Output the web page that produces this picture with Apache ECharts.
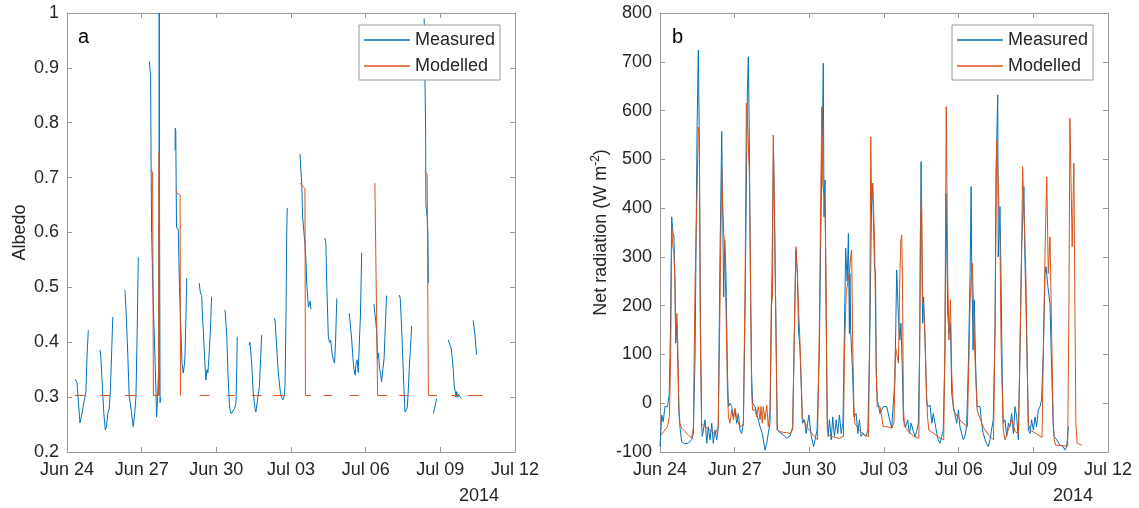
<!DOCTYPE html>
<html>
<head>
<meta charset="utf-8">
<title>Albedo and net radiation, Jun–Jul 2014</title>
<script src="https://cdn.jsdelivr.net/npm/echarts@6/dist/echarts.min.js"></script>
<style>
  html, body { margin: 0; padding: 0; background: #fff; }
  #chart { width: 1139px; height: 508px; }
</style>
</head>
<body>
<div id="chart"></div>
<script>
// Time is given in days since Jun 24 2014 00:00.
const dateTicks = ['Jun 24', 'Jun 27', 'Jun 30', 'Jul 03', 'Jul 06', 'Jul 09', 'Jul 12'];
const yearLabel = '2014';
const seriesNames = ['Measured', 'Modelled'];

// Panel a: albedo, one daylight segment per list entry
const albedoMeasured = [
  [[0.32,0.333],[0.40,0.327],[0.46,0.29],[0.52,0.253],[0.58,0.265],[0.64,0.28],[0.70,0.295],[0.76,0.31],[0.80,0.37],[0.856,0.422]],
  [[1.33,0.386],[1.36,0.372],[1.42,0.32],[1.48,0.27],[1.54,0.24],[1.58,0.245],[1.64,0.27],[1.70,0.28],[1.74,0.31],[1.80,0.39],[1.84,0.446]],
  [[2.33,0.495],[2.38,0.45],[2.44,0.38],[2.50,0.30],[2.54,0.29],[2.58,0.275],[2.66,0.246],[2.72,0.27],[2.77,0.30],[2.82,0.42],[2.865,0.555]],
  [[3.31,0.912],[3.36,0.884],[3.38,0.72],[3.40,0.60],[3.45,0.50],[3.51,0.404],[3.55,0.35],[3.60,0.264],[3.64,0.30],[3.69,0.36],[3.705,1.0],[3.72,0.62],[3.74,0.29],[3.75,0.30]],
  [[4.34,0.75],[4.35,0.79],[4.37,0.785],[4.40,0.61],[4.47,0.605],[4.52,0.50],[4.58,0.42],[4.62,0.362],[4.67,0.344],[4.72,0.36],[4.74,0.375],[4.78,0.45],[4.81,0.517]],
  [[5.31,0.508],[5.36,0.49],[5.41,0.485],[5.45,0.44],[5.48,0.42],[5.53,0.37],[5.58,0.331],[5.62,0.35],[5.66,0.344],[5.70,0.37],[5.76,0.42],[5.81,0.483]],
  [[6.35,0.459],[6.37,0.46],[6.42,0.41],[6.47,0.34],[6.52,0.29],[6.55,0.277],[6.60,0.27],[6.68,0.268],[6.74,0.28],[6.79,0.29],[6.82,0.35],[6.84,0.41]],
  [[7.32,0.395],[7.35,0.40],[7.42,0.362],[7.48,0.31],[7.55,0.28],[7.59,0.273],[7.64,0.29],[7.70,0.31],[7.73,0.319],[7.78,0.37],[7.82,0.413]],
  [[8.33,0.444],[8.36,0.44],[8.40,0.41],[8.48,0.35],[8.56,0.313],[8.62,0.30],[8.67,0.295],[8.72,0.30],[8.76,0.32],[8.80,0.45],[8.83,0.605],[8.85,0.645]],
  [[9.36,0.743],[9.38,0.74],[9.43,0.69],[9.47,0.628],[9.52,0.60],[9.56,0.58],[9.60,0.55],[9.63,0.508],[9.66,0.49],[9.70,0.464],[9.74,0.47],[9.77,0.475],[9.80,0.46]],
  [[10.36,0.59],[10.40,0.58],[10.44,0.50],[10.50,0.41],[10.55,0.40],[10.59,0.404],[10.65,0.38],[10.70,0.368],[10.75,0.362],[10.79,0.40],[10.84,0.48]],
  [[11.34,0.453],[11.37,0.45],[11.44,0.404],[11.49,0.37],[11.53,0.35],[11.58,0.34],[11.61,0.36],[11.66,0.368],[11.70,0.345],[11.74,0.345],[11.79,0.45],[11.84,0.563]],
  [[12.33,0.47],[12.37,0.473],[12.44,0.422],[12.48,0.37],[12.52,0.38],[12.55,0.355],[12.60,0.34],[12.64,0.328],[12.69,0.35],[12.74,0.37],[12.79,0.43],[12.84,0.485]],
  [[13.35,0.486],[13.39,0.48],[13.45,0.42],[13.50,0.36],[13.54,0.313],[13.58,0.273],[13.63,0.275],[13.67,0.28],[13.71,0.31],[13.75,0.35],[13.80,0.39],[13.85,0.43]],
  [[14.35,0.99],[14.38,0.89],[14.41,0.78],[14.42,0.65],[14.47,0.63],[14.50,0.60],[14.52,0.508]],
  [[14.72,0.27],[14.85,0.297]],
  [[15.32,0.404],[15.35,0.40],[15.39,0.395],[15.43,0.39],[15.48,0.37],[15.52,0.35],[15.56,0.32],[15.59,0.313],[15.63,0.30],[15.66,0.31],[15.70,0.30],[15.74,0.305],[15.79,0.30],[15.86,0.297]],
  [[16.32,0.44],[16.36,0.443],[16.40,0.41],[16.43,0.39],[16.46,0.377]]
];

const albedoModelled = [
  [[0.32,0.303],[0.72,0.303]],
  [[1.33,0.303],[1.73,0.303]],
  [[2.33,0.303],[2.80,0.303]],
  [[3.36,0.714],[3.44,0.71],[3.47,0.303],[3.68,0.303],[3.70,0.747],[3.72,0.303]],
  [[4.38,0.678],[4.41,0.672],[4.545,0.668],[4.56,0.303]],
  [[5.33,0.303],[5.73,0.303]],
  [[6.42,0.303],[6.75,0.303]],
  [[7.42,0.303],[7.82,0.303]],
  [[8.28,0.303],[8.76,0.303]],
  [[9.36,0.69],[9.40,0.688],[9.56,0.68],[9.58,0.303],[9.80,0.303]],
  [[10.30,0.303],[10.66,0.303]],
  [[11.36,0.303],[11.72,0.303]],
  [[12.37,0.69],[12.45,0.687],[12.48,0.303],[12.86,0.303]],
  [[13.35,0.303],[13.75,0.303]],
  [[14.38,0.712],[14.47,0.706],[14.52,0.303],[14.86,0.303]],
  [[15.45,0.303],[15.74,0.303]],
  [[16.10,0.303],[16.70,0.303]]
];

// Panel b: net radiation (W m-2)
const netMeasured = [
  [0.00,-89],[0.07,-24],[0.13,-38],[0.20,-7],[0.30,-7],[0.37,17],[0.42,150],[0.47,382],[0.52,350],[0.56,341],[0.60,253],[0.63,123],[0.68,164],[0.71,95],[0.76,-21],[0.80,-48],[0.87,-79],
  [1.00,-83],[1.14,-82],[1.27,-75],[1.34,-62],[1.41,100],[1.49,567],[1.54,724],[1.58,540],[1.62,200],[1.67,-41],[1.70,-68],[1.81,-34],[1.88,-82],[1.94,-48],
  [2.01,-75],[2.08,-41],[2.14,-82],[2.21,-55],[2.28,-75],[2.34,-51],[2.41,300],[2.48,557],[2.52,389],[2.56,218],[2.60,335],[2.65,266],[2.71,61],[2.75,-7],[2.81,0],[2.88,-7],[2.95,-28],
  [3.01,-14],[3.08,-41],[3.15,-21],[3.21,-55],[3.28,-62],[3.35,-41],[3.42,200],[3.51,642],[3.55,710],[3.59,540],[3.63,266],[3.68,61],[3.72,0],[3.82,-7],[3.88,-21],[3.95,-34],
  [4.02,-48],[4.11,-62],[4.15,-75],[4.22,-96],[4.29,-82],[4.35,-62],[4.42,-41],[4.47,150],[4.51,314],[4.56,526],[4.62,300],[4.69,27],[4.71,-55],[4.82,-60],[4.96,-65],
  [5.09,-72],[5.22,-68],[5.33,-48],[5.40,150],[5.46,314],[5.52,266],[5.57,143],[5.62,116],[5.66,61],[5.72,-41],[5.81,-34],[5.87,-62],[5.98,-24],
  [6.07,-65],[6.17,-89],[6.23,-75],[6.31,-55],[6.40,100],[6.50,500],[6.54,608],[6.56,697],[6.59,382],[6.63,458],[6.67,198],[6.72,-28],[6.76,-68],[6.81,-34],[6.88,-75],[6.94,-28],
  [7.01,-68],[7.08,-34],[7.14,-62],[7.21,-24],[7.28,-62],[7.35,-41],[7.41,150],[7.46,318],[7.52,250],[7.57,348],[7.61,143],[7.63,266],[7.66,150],[7.74,61],[7.79,-28],[7.88,-21],[7.95,-62],
  [8.01,-34],[8.08,-68],[8.15,-62],[8.28,-68],[8.35,-55],[8.42,100],[8.50,410],[8.52,451],[8.55,430],[8.62,280],[8.66,266],[8.69,61],[8.73,7],[8.84,-21],[8.97,-7],
  [9.11,-7],[9.20,-28],[9.31,-51],[9.38,-48],[9.44,50],[9.51,273],[9.58,177],[9.64,130],[9.68,164],[9.74,61],[9.78,-34],[9.87,-48],[9.95,-34],
  [10.02,-62],[10.09,-41],[10.18,-58],[10.25,-68],[10.31,-58],[10.38,-41],[10.43,100],[10.49,495],[10.55,164],[10.59,218],[10.65,130],[10.71,7],[10.75,-7],[10.85,-4],[10.92,-41],[10.98,-21],
  [11.05,-41],[11.12,-62],[11.18,-75],[11.25,-82],[11.32,-68],[11.38,-55],[11.45,100],[11.49,430],[11.56,184],[11.61,143],[11.67,164],[11.72,20],[11.79,-7],[11.85,-7],[11.92,-41],[11.99,-14],
  [12.05,-48],[12.12,-62],[12.19,-75],[12.25,-68],[12.32,-48],[12.39,80],[12.46,266],[12.50,444],[12.52,300],[12.58,109],[12.63,212],[12.68,82],[12.74,-7],[12.86,-7],[12.92,-41],[12.99,-62],
  [13.06,-75],[13.12,-82],[13.19,-89],[13.26,-75],[13.32,-55],[13.39,-34],[13.46,150],[13.50,471],[13.57,632],[13.59,300],[13.66,403],[13.70,266],[13.75,61],[13.79,-41],[13.86,-34],[13.93,-68],
  [14.00,-41],[14.06,-48],[14.13,-21],[14.20,-62],[14.26,-7],[14.33,-28],[14.40,-75],[14.46,100],[14.53,321],[14.62,444],[14.66,300],[14.70,212],[14.76,61],[14.80,-55],[14.87,-62],[14.93,-34],
  [15.00,-55],[15.07,-28],[15.13,-48],[15.20,-14],[15.27,-7],[15.33,7],[15.40,100],[15.47,266],[15.51,280],[15.60,232],[15.67,205],[15.74,61],[15.80,-48],[15.84,-68],[15.94,-75],
  [16.07,-86],[16.20,-89],[16.27,-96],[16.34,-89],[16.41,-48]
];

const netModelled = [
  [0.00,-68],[0.15,-58],[0.30,-48],[0.38,-27],[0.43,100],[0.47,362],[0.52,320],[0.56,307],[0.60,250],[0.63,130],[0.68,184],[0.71,130],[0.76,-7],[0.80,-41],[0.87,-51],
  [1.00,-58],[1.14,-65],[1.27,-72],[1.34,-51],[1.41,250],[1.49,437],[1.54,566],[1.58,553],[1.62,150],[1.67,-41],[1.81,-48],
  [2.01,-55],[2.14,-60],[2.21,-65],[2.28,-68],[2.34,-48],[2.41,200],[2.48,485],[2.52,396],[2.54,380],[2.56,348],[2.60,321],[2.65,198],[2.71,27],[2.75,-28],[2.81,-41],[2.88,-14],[2.95,-34],
  [3.01,-10],[3.08,-28],[3.15,-41],[3.21,-48],[3.28,-51],[3.35,-45],[3.42,250],[3.47,615],[3.51,587],[3.59,471],[3.63,300],[3.68,27],[3.72,-14],[3.82,-14],[3.88,-28],[3.95,-7],
  [4.02,-34],[4.06,-7],[4.11,-41],[4.15,-7],[4.22,-34],[4.29,-4],[4.35,-48],[4.42,-14],[4.47,200],[4.52,218],[4.55,550],[4.60,400],[4.69,27],[4.71,-55],[4.82,-58],[4.96,-60],
  [5.09,-60],[5.22,-62],[5.33,-55],[5.40,150],[5.46,321],[5.52,266],[5.57,188],[5.62,130],[5.66,130],[5.72,-28],[5.76,-34],[5.90,-48],
  [6.05,-58],[6.20,-68],[6.33,-75],[6.40,150],[6.50,608],[6.54,451],[6.59,423],[6.63,417],[6.67,266],[6.72,-55],[6.76,-65],
  [7.00,-70],[7.20,-72],[7.37,-68],[7.41,100],[7.48,225],[7.55,250],[7.61,266],[7.66,300],[7.70,314],[7.74,130],[7.79,-7],[7.83,-41],
  [8.00,-55],[8.20,-65],[8.38,-68],[8.43,200],[8.47,546],[8.50,410],[8.55,451],[8.62,335],[8.69,61],[8.73,-7],[8.84,-7],[8.97,-48],
  [9.11,-48],[9.31,-51],[9.40,-40],[9.46,116],[9.58,82],[9.64,266],[9.68,335],[9.71,345],[9.74,266],[9.78,-7],[9.82,-48],
  [10.00,-58],[10.20,-68],[10.40,-72],[10.44,150],[10.46,352],[10.51,430],[10.55,212],[10.59,198],[10.65,130],[10.71,20],[10.75,-28],[10.80,-55],
  [11.00,-62],[11.20,-70],[11.40,-75],[11.45,150],[11.50,608],[11.56,266],[11.61,130],[11.67,212],[11.72,61],[11.79,-14],[11.95,-28],
  [12.15,-40],[12.35,-48],[12.40,60],[12.46,212],[12.55,287],[12.58,232],[12.63,130],[12.68,61],[12.74,-14],[12.85,-30],
  [13.00,-50],[13.20,-65],[13.40,-75],[13.46,150],[13.53,540],[13.59,451],[13.66,335],[13.70,130],[13.75,27],[13.79,-55],[13.86,-75],[13.99,-55],
  [14.13,-34],[14.26,-58],[14.40,-62],[14.46,100],[14.53,307],[14.57,485],[14.66,335],[14.70,266],[14.76,61],[14.80,-41],[14.87,-55],
  [15.10,-62],[15.35,-70],[15.40,100],[15.47,307],[15.54,464],[15.60,266],[15.67,341],[15.74,130],[15.80,-41],[15.84,-75],[15.90,-86],
  [16.38,-88],[16.43,200],[16.47,584],[16.51,471],[16.56,321],[16.63,492],[16.67,198],[16.71,-41],[16.76,-82],[16.94,-86]
];

// ---- styling ----
const FONT = '"Liberation Sans", Arial, Helvetica, sans-serif';
const TEXT = '#262626';
const AXIS = '#9a9a9a';
const BLUE = '#0072BD';
const ORANGE = '#D95319';
const FS = 18;

// Join daylight segments into one line, broken between segments
function joinSegments(segments) {
  const out = [];
  segments.forEach((seg, i) => {
    if (i > 0) out.push([seg[0][0], '-']);
    seg.forEach(p => out.push(p));
  });
  return out;
}

const grids = [
  { left: 67, top: 13, width: 448, height: 439 },
  { left: 660, top: 13, width: 448, height: 439 }
];

function xAxes(gi) {
  const common = {
    gridIndex: gi, type: 'value', min: 0, max: 18, interval: 3,
    axisLine: { onZero: false, lineStyle: { color: AXIS, width: 1 } },
    axisTick: { inside: true, length: 5, lineStyle: { color: AXIS } },
    splitLine: { show: false }
  };
  return [
    Object.assign({}, common, {
      position: 'bottom',
      axisLabel: {
        color: TEXT, fontFamily: FONT, fontSize: FS, margin: 9,
        showMinLabel: true, showMaxLabel: true,
        formatter: v => dateTicks[Math.round(v / 3)]
      }
    }),
    Object.assign({}, common, { position: 'top', axisLabel: { show: false } })
  ];
}

function yAxes(gi, min, max, interval, fmt, name, nameGap) {
  const common = {
    gridIndex: gi, type: 'value', min: min, max: max, interval: interval,
    axisLine: { onZero: false, lineStyle: { color: AXIS, width: 1 } },
    axisTick: { inside: true, length: 5, lineStyle: { color: AXIS } },
    splitLine: { show: false }
  };
  return [
    Object.assign({}, common, {
      position: 'left',
      name: name, nameLocation: 'middle', nameGap: nameGap, nameRotate: 90,
      nameTextStyle: {
        color: TEXT, fontFamily: FONT, fontSize: FS,
        rich: {
          n: { color: TEXT, fontFamily: FONT, fontSize: FS, lineHeight: 22 },
          s: { color: TEXT, fontFamily: FONT, fontSize: 12, lineHeight: 22, verticalAlign: 'top' }
        }
      },
      axisLabel: { color: TEXT, fontFamily: FONT, fontSize: FS, margin: 8, formatter: fmt }
    }),
    Object.assign({}, common, { position: 'right', axisLabel: { show: false } })
  ];
}

function legendAt(left) {
  return {
    data: seriesNames.map((n, i) => ({ name: n, itemStyle: { color: i === 0 ? BLUE : ORANGE } })),
    left: left, top: 25, orient: 'vertical',
    padding: [6, 5, 5, 5],
    icon: 'rect',
    itemWidth: 46, itemHeight: 1.5, itemGap: 8,
    selectedMode: false,
    backgroundColor: '#fff',
    borderColor: AXIS, borderWidth: 1,
    textStyle: { color: TEXT, fontFamily: FONT, fontSize: FS }
  };
}

function lineSeries(name, color, xi, yi, data) {
  return {
    name: name, type: 'line', xAxisIndex: xi, yAxisIndex: yi,
    data: data, showSymbol: false, symbol: 'none',
    lineStyle: { color: color, width: 1 }, itemStyle: { color: color },
    connectNulls: false, animation: false
  };
}

const chart = echarts.init(document.getElementById('chart'), null, { renderer: 'canvas' });
chart.setOption({
  animation: false,
  backgroundColor: '#fff',
  grid: grids,
  xAxis: xAxes(0).concat(xAxes(1)),
  yAxis: yAxes(0, 0.2, 1, 0.1, v => String(Number(v.toFixed(1))), 'Albedo', 38)
    .concat(yAxes(1, -100, 800, 100, v => String(v), '{n|Net radiation (W m}{s|-2}{n|)}', 48)),
  legend: [legendAt(359), legendAt(952)],
  series: [
    lineSeries(seriesNames[0], BLUE, 0, 0, joinSegments(albedoMeasured)),
    lineSeries(seriesNames[1], ORANGE, 0, 0, joinSegments(albedoModelled)),
    lineSeries(seriesNames[0], BLUE, 2, 2, netMeasured),
    lineSeries(seriesNames[1], ORANGE, 2, 2, netModelled)
  ],
  graphic: [
    { type: 'text', left: 78, top: 27, style: { text: 'a', fill: '#000', font: '20px ' + FONT } },
    { type: 'text', left: 672, top: 27, style: { text: 'b', fill: '#000', font: '20px ' + FONT } },
    { type: 'text', x: 479, y: 496, style: { text: yearLabel, fill: TEXT, font: FS + 'px ' + FONT, align: 'center', verticalAlign: 'middle' } },
    { type: 'text', x: 1073, y: 496, style: { text: yearLabel, fill: TEXT, font: FS + 'px ' + FONT, align: 'center', verticalAlign: 'middle' } }
  ]
});
</script>
</body>
</html>
